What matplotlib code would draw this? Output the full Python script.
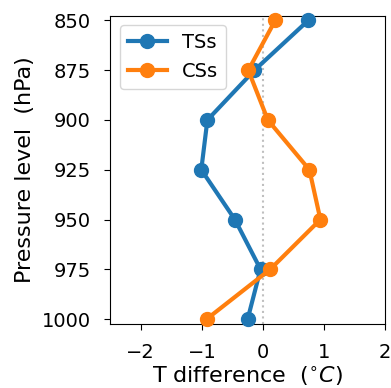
import matplotlib
matplotlib.use('Agg')
import matplotlib.pyplot as plt

# Pressure levels (hPa) and temperature differences (deg C)
levels = [850, 875, 900, 925, 950, 975, 1000]
tss = [0.74, -0.14, -0.91, -1.01, -0.46, -0.04, -0.25]
css = [0.20, -0.24, 0.08, 0.76, 0.94, 0.12, -0.92]
xticks = [-2, -1, 0, 1, 2]

fig = plt.figure(figsize=(3.91, 3.88), dpi=100)
ax = fig.add_axes([0.282, 0.165, 0.703, 0.795])

ax.axvline(0, color='0.75', linestyle=':', linewidth=1.5, zorder=1)
ax.plot(tss, levels, '-o', color='#1f77b4', lw=3, ms=10, label='TSs', clip_on=False, zorder=3)
ax.plot(css, levels, '-o', color='#ff7f0e', lw=3, ms=10, label='CSs', clip_on=False, zorder=3)

ax.set_xlim(-2.5, 2)
ax.set_ylim(1002.5, 847.5)
ax.set_xticks(xticks)
ax.set_yticks(levels)
ax.tick_params(labelsize=14, length=4, pad=10)
ax.set_xlabel(r'T difference  ($^{\circ}C$)', fontsize=16, labelpad=1)
ax.set_ylabel('Pressure level  (hPa)', fontsize=16, labelpad=5)
ax.legend(loc='upper left', fontsize=14)

fig.savefig('out.png', dpi=100)
